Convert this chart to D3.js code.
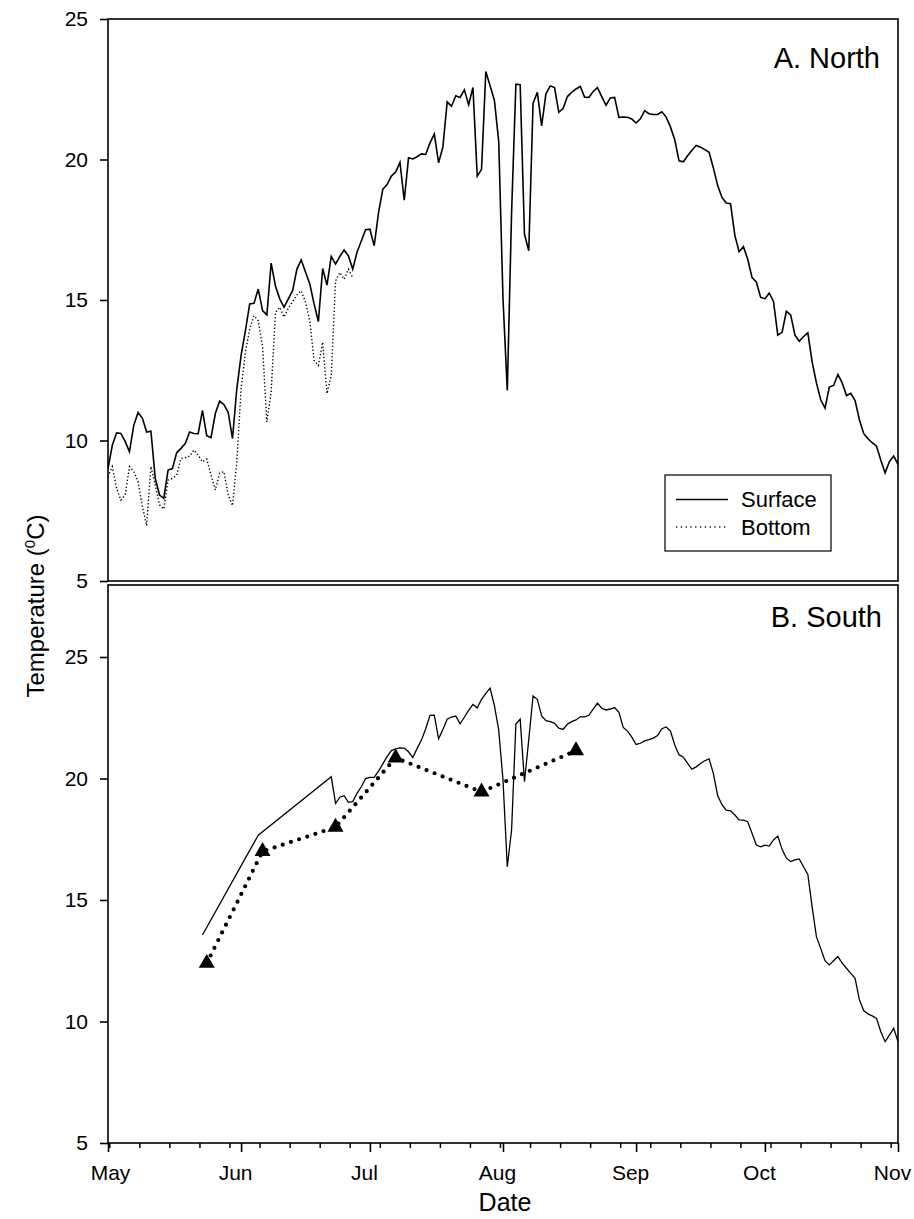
<!DOCTYPE html>
<html>
<head>
<meta charset="utf-8">
<script src="https://cdn.jsdelivr.net/npm/d3@7"></script>
<style>
  html, body { margin: 0; padding: 0; background: #fff; }
  svg { display: block; font-family: "Liberation Sans", Arial, sans-serif; }
</style>
</head>
<body>
<svg id="chart" width="914" height="1219"></svg>
<script>
// Day 0 = 1 May; values are daily water temperatures (°C)
const monthLabels = ["May", "Jun", "Jul", "Aug", "Sep", "Oct", "Nov"];
const monthDays = [0, 31, 61, 92, 123, 153, 184];
const tempTicks = [5, 10, 15, 20, 25];

// North station, surface logger (days 0..184)
const northSurface = [
  9.0, 9.83, 10.27, 10.25, 9.96, 9.6, 10.54, 11.0, 10.8, 10.3,
  10.33, 8.65, 8.06, 7.94, 8.95, 9.0, 9.57, 9.72, 9.89, 10.3,
  10.25, 10.24, 11.07, 10.17, 10.1, 10.96, 11.4, 11.28, 11.0, 10.07,
  11.84, 13.03, 13.9, 14.86, 14.88, 15.39, 14.62, 14.47, 16.31, 15.5,
  15.04, 14.74, 15.04, 15.33, 16.1, 16.43, 16.0, 15.57, 14.86, 14.23,
  16.12, 15.53, 16.55, 16.28, 16.55, 16.78, 16.57, 16.1, 16.7, 17.1,
  17.5, 17.52, 16.93, 18.1, 18.94, 19.11, 19.41, 19.55, 19.9, 18.55,
  20.06, 20.02, 20.1, 20.2, 20.18, 20.59, 20.91, 19.88, 20.45, 22.05,
  21.89, 22.27, 22.21, 22.48, 21.95, 22.56, 19.41, 19.65, 23.13, 22.62,
  22.1, 20.65, 15.04, 11.78, 18.11, 22.68, 22.66, 17.34, 16.75, 22.0,
  22.39, 21.2, 22.34, 22.62, 22.56, 21.68, 21.81, 22.24, 22.39, 22.51,
  22.6, 22.22, 22.21, 22.42, 22.56, 22.24, 21.93, 22.19, 22.21, 21.5,
  21.51, 21.5, 21.44, 21.3, 21.45, 21.74, 21.63, 21.6, 21.6, 21.7,
  21.51, 21.16, 20.7, 19.95, 19.92, 20.13, 20.33, 20.5, 20.44, 20.35,
  20.26, 19.7, 19.07, 18.65, 18.45, 18.43, 17.3, 16.72, 16.9, 16.45,
  15.8, 15.64, 15.1, 15.04, 15.25, 14.95, 13.75, 13.85, 14.6, 14.47,
  13.75, 13.53, 13.7, 13.83, 12.8, 12.05, 11.45, 11.15, 11.9, 11.96,
  12.35, 12.05, 11.6, 11.68, 11.42, 10.75, 10.25, 10.06, 9.92, 9.8,
  9.3, 8.85, 9.25, 9.45, 9.15
];

// North station, bottom logger (days 0..57)
const northBottom = [
  8.71, 9.07, 8.3, 7.88, 8.06, 9.07, 8.89, 8.53, 7.65, 6.97,
  9.07, 8.42, 7.71, 7.56, 8.59, 8.65, 8.77, 9.36, 9.39, 9.44,
  9.66, 9.48, 9.24, 9.34, 8.77, 8.24, 8.83, 8.89, 8.06, 7.68,
  9.24, 11.84, 13.14, 13.97, 14.44, 14.26, 13.32, 10.66, 11.72, 14.56,
  14.74, 14.39, 14.71, 14.94, 15.18, 15.33, 14.92, 14.26, 12.85, 12.67,
  13.5, 11.67, 12.32, 15.68, 15.98, 15.74, 16.1, 15.8
];

// South station, surface: two early readings, then daily from day 52
const southSurfaceEarlyDays = [22, 35];
const southSurfaceEarly = [13.56, 17.67];
const southSurfaceFirstDailyDay = 52;
const southSurfaceDaily = [
  20.07, 18.98, 19.23, 19.29, 19.02, 19.05, 19.39, 19.66, 20.0, 20.05,
  20.05, 20.3, 20.6, 20.9, 21.15, 21.22, 21.26, 21.25, 21.1, 20.86,
  21.24, 21.58, 22.05, 22.6, 22.61, 21.63, 22.02, 22.44, 22.53, 22.57,
  22.25, 22.52, 22.8, 23.05, 22.9, 23.26, 23.5, 23.72, 23.0, 22.0,
  19.94, 16.37, 17.88, 22.24, 22.44, 19.87, 21.6, 23.4, 23.26, 22.57,
  22.38, 22.34, 22.27, 22.07, 22.02, 22.24, 22.34, 22.41, 22.54, 22.54,
  22.6, 22.85, 23.1, 22.89, 22.82, 22.86, 22.92, 22.72, 22.1, 21.95,
  21.7, 21.4, 21.45, 21.55, 21.6, 21.66, 21.77, 22.05, 22.12, 21.95,
  21.38, 20.98, 20.88, 20.62, 20.38, 20.48, 20.62, 20.73, 20.81, 20.2,
  19.3, 18.92, 18.7, 18.67, 18.5, 18.3, 18.29, 18.22, 17.75, 17.26,
  17.19, 17.26, 17.22, 17.47, 17.63, 17.09, 16.72, 16.58, 16.65, 16.69,
  16.37, 16.05, 14.72, 13.49, 13.01, 12.5, 12.33, 12.5, 12.67, 12.4,
  12.19, 11.98, 11.78, 10.9, 10.45, 10.31, 10.23, 10.13, 9.58, 9.17,
  9.44, 9.72, 9.17
];

// South station, bottom: discrete profile casts
const southBottomDays = [23, 36, 53, 67, 87, 109];
const southBottom = [12.4, 17.0, 18.0, 20.85, 19.45, 21.15];

// ---- layout ----
const left = 108, right = 898;
const topPanel = { top: 19, bottom: 581 };
const botPanel = { top: 585, bottom: 1143 };

const svg = d3.select("#chart");

const x = d3.scaleLinear().domain([0, 184]).range([left, right]);
const yN = d3.scaleLinear().domain([5, 25]).range([topPanel.bottom, topPanel.top]);
const yS = d3.scaleLinear().domain([5, 25]).range([botPanel.bottom, 657]);

const northSurfPts = northSurface.map((v, i) => [i, v]);
const northBotPts = northBottom.map((v, i) => [i, v]);
const southSurfPts = southSurfaceEarly.map((v, i) => [southSurfaceEarlyDays[i], v])
  .concat(southSurfaceDaily.map((v, i) => [southSurfaceFirstDailyDay + i, v]));
const southBotPts = southBottom.map((v, i) => [southBottomDays[i], v]);

const lineN = d3.line().x(d => x(d[0])).y(d => yN(d[1]));
const lineS = d3.line().x(d => x(d[0])).y(d => yS(d[1]));

// ---- panel frames ----
function frame(p) {
  svg.append("rect")
    .attr("x", left).attr("y", p.top)
    .attr("width", right - left).attr("height", p.bottom - p.top)
    .attr("fill", "none").attr("stroke", "#000").attr("stroke-width", 1.6);
}
frame(topPanel);
frame(botPanel);

// ---- y axes ----
function yAxis(scale) {
  const g = svg.append("g").attr("transform", `translate(${left},0)`)
    .call(d3.axisLeft(scale).tickValues(tempTicks).tickSize(8).tickPadding(12).tickFormat(d3.format("d")));
  g.select(".domain").remove();
  g.selectAll(".tick line").attr("stroke", "#000").attr("stroke-width", 1.6);
  g.selectAll(".tick text")
    .attr("font-size", 21).attr("fill", "#000")
    .attr("font-family", "Liberation Sans, Arial, sans-serif")
    .attr("dy", "0.33em");
}
yAxis(yN);
yAxis(yS);

// ---- x axis: weekly minor ticks, monthly major ticks ----
const xAxisMinor = svg.append("g").attr("transform", `translate(0,${botPanel.bottom})`)
  .call(d3.axisBottom(x).tickValues(d3.range(0.3, 184, 7)).tickSize(5).tickFormat(""));
xAxisMinor.select(".domain").remove();
xAxisMinor.selectAll(".tick line").attr("stroke", "#000").attr("stroke-width", 1.5);

const xAxisMajor = svg.append("g").attr("transform", `translate(0,${botPanel.bottom})`)
  .call(d3.axisBottom(x).tickValues(monthDays).tickSize(9).tickPadding(13)
    .tickFormat((d, i) => monthLabels[i]));
xAxisMajor.select(".domain").remove();
xAxisMajor.selectAll(".tick line").attr("stroke", "#000").attr("stroke-width", 1.6);
xAxisMajor.selectAll(".tick text")
  .attr("font-size", 21).attr("fill", "#000")
  .attr("font-family", "Liberation Sans, Arial, sans-serif")
  .attr("dx", (d, i) => i === 0 ? 2 : -6);

// ---- axis titles ----
svg.append("text")
  .attr("x", 505).attr("y", 1211)
  .attr("text-anchor", "middle").attr("font-size", 25)
  .text("Date");

const yTitle = svg.append("text")
  .attr("transform", "translate(44,606) rotate(-90)")
  .attr("text-anchor", "middle").attr("font-size", 24);
yTitle.append("tspan").text("Temperature (");
yTitle.append("tspan").attr("font-size", 15).attr("dy", -9).text("0");
yTitle.append("tspan").attr("dy", 9).text("C)");

// ---- panel titles ----
svg.append("text").attr("x", 880).attr("y", 68)
  .attr("text-anchor", "end").attr("font-size", 29).text("A. North");
svg.append("text").attr("x", 882).attr("y", 627)
  .attr("text-anchor", "end").attr("font-size", 29).text("B. South");

// ---- North series ----
svg.append("path").datum(northBotPts)
  .attr("d", lineN).attr("fill", "none").attr("stroke", "#000")
  .attr("stroke-width", 1.4).attr("stroke-dasharray", "1.3,2.2");
svg.append("path").datum(northSurfPts)
  .attr("d", lineN).attr("fill", "none").attr("stroke", "#000")
  .attr("stroke-width", 1.6).attr("stroke-linejoin", "miter");

// ---- South series ----
svg.append("path").datum(southSurfPts)
  .attr("d", lineS).attr("fill", "none").attr("stroke", "#000")
  .attr("stroke-width", 1.3);
svg.append("path").datum(southBotPts)
  .attr("d", lineS).attr("fill", "none").attr("stroke", "#000")
  .attr("stroke-width", 4.2).attr("stroke-linecap", "round")
  .attr("stroke-dasharray", "0,8.6");
svg.selectAll(".tri").data(southBotPts).enter().append("path")
  .attr("class", "tri")
  .attr("transform", d => `translate(${x(d[0])},${yS(d[1])})`)
  .attr("d", d3.symbol().type(d3.symbolTriangle).size(112))
  .attr("fill", "#000");

// ---- legend ----
const lg = svg.append("g");
lg.append("rect").attr("x", 665).attr("y", 475).attr("width", 166).attr("height", 76)
  .attr("fill", "#fff").attr("stroke", "#000").attr("stroke-width", 1.2);
lg.append("line").attr("x1", 676).attr("x2", 728).attr("y1", 499.5).attr("y2", 499.5)
  .attr("stroke", "#000").attr("stroke-width", 1.6);
lg.append("line").attr("x1", 676).attr("x2", 728).attr("y1", 527).attr("y2", 527)
  .attr("stroke", "#000").attr("stroke-width", 1.3).attr("stroke-dasharray", "1.2,3.6");
lg.append("text").attr("x", 741).attr("y", 507).attr("font-size", 22).text("Surface");
lg.append("text").attr("x", 741).attr("y", 535).attr("font-size", 22).text("Bottom");
</script>
</body>
</html>
